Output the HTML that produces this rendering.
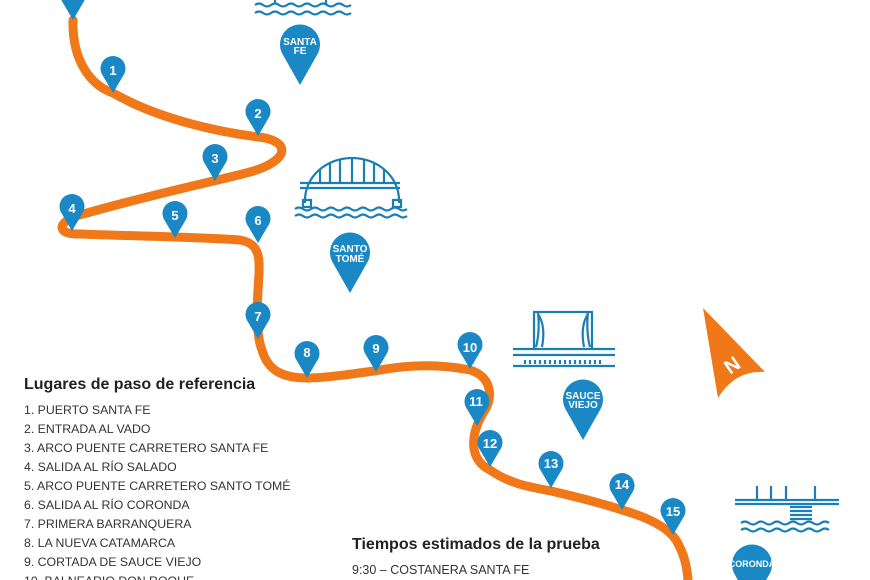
<!DOCTYPE html>
<html><head><meta charset="utf-8"><style>
body{margin:0;background:#fff;width:870px;height:580px;overflow:hidden;font-family:"Liberation Sans",sans-serif}
svg{position:absolute;left:0;top:0}
</style></head><body>
<svg width="870" height="580" viewBox="0 0 870 580">
<defs>
<path id="pin" d="M0,0 L-10,-17 A12.5,12.5 0 1 1 10,-17 Z" fill="#1a88c4"/>
<path id="bpin" d="M0,0 L-17,-30 A20,20 0 1 1 17,-30 Z" fill="#1a88c4"/>
</defs>
<g fill="none" stroke="#1a7fb4" stroke-width="2.2">
<path d="M255,5 q4,-3 8,0 t8,0 t8,0 t8,0 t8,0 t8,0 t8,0 t8,0 t8,0 t8,0 t8,0 t8,0"/>
<path d="M255,13 q4,-3 8,0 t8,0 t8,0 t8,0 t8,0 t8,0 t8,0 t8,0 t8,0 t8,0 t8,0 t8,0"/>
<path d="M275,0 v4 M326,0 v4"/>
<!-- arch bridge -->
<path d="M305,203 L305,200 A47,42 0 0 1 399,200 L399,203"/>
<path d="M300,183 h100 M300,188 h100"/>
<path d="M320,169 v14 M330,163 v20 M340,159 v24 M352,158 v25 M364,159 v24 M374,163 v20 M384,169 v14"/>
<path d="M303,200 h8 v7 h-8z M393,200 h8 v7 h-8z"/>
<path d="M295,209 q4,-3 8,0 t8,0 t8,0 t8,0 t8,0 t8,0 t8,0 t8,0 t8,0 t8,0 t8,0 t8,0 t8,0 t8,0"/>
<path d="M295,216 q4,-3 8,0 t8,0 t8,0 t8,0 t8,0 t8,0 t8,0 t8,0 t8,0 t8,0 t8,0 t8,0 t8,0 t8,0"/>
<!-- stage -->
<path d="M513,349 h102 M513,355 h102 M513,366 h102"/>
<path d="M533,312 h60 M534,312 v37 M592,312 v37 M538,312 q2,20 -2,35 M588,312 q-2,20 2,35 M538,314 q8,12 4,33 M588,314 q-8,12 -4,33"/>
<path d="M525,360 v4 M530,360 v4 M535,360 v4 M540,360 v4 M545,360 v4 M550,360 v4 M555,360 v4 M560,360 v4 M565,360 v4 M570,360 v4 M575,360 v4 M580,360 v4 M585,360 v4 M590,360 v4 M595,360 v4 M600,360 v4"/>
<!-- coronda pier -->
<path d="M735,500 h104 M735,504 h104 M757,486 v14 M771,486 v14 M786,486 v14 M815,486 v14"/>
<path d="M790,507 h22 M790,511 h22 M790,515 h22 M790,519 h22"/>
<path d="M741,523 q4,-3 8,0 t8,0 t8,0 t8,0 t8,0 t8,0 t8,0 t8,0 t8,0 t8,0 t8,0"/>
<path d="M741,530 q4,-3 8,0 t8,0 t8,0 t8,0 t8,0 t8,0 t8,0 t8,0 t8,0 t8,0 t8,0"/>
</g>
<path d="M73,20 C72,60 90,85 113,93 C160,120 220,132 258,137 C290,140 292,160 250,172 C220,180 150,195 87,213 C55,220 55,235 80,234 C130,236 200,237 240,240 C262,244 260,260 258,290 C256,320 258,340 262,350 C268,372 285,378 307,378 C330,378 355,373 375,371 C410,364 440,364 470,370 C490,376 494,395 485,410 C472,430 466,458 490,470 C510,484 530,487 551,491 C590,500 610,506 622,510 C650,518 668,528 676,540 C685,555 687,568 688,580" fill="none" stroke="#f07818" stroke-width="9" stroke-linecap="round"/>
<path d="M703,308 L765,372 Q735,370 718,398 Z" fill="#f07818"/>
<text x="732" y="372" transform="rotate(-35 732 365)" font-size="20" font-weight="bold" fill="#fff" text-anchor="middle">N</text>
<g font-size="13" font-weight="bold" fill="#fff" text-anchor="middle">
<use href="#pin" x="73" y="20"/>
<use href="#pin" x="113" y="93"/><text x="113" y="75">1</text>
<use href="#pin" x="258" y="136"/><text x="258" y="118">2</text>
<use href="#pin" x="215" y="181"/><text x="215" y="163">3</text>
<use href="#pin" x="72" y="231"/><text x="72" y="213">4</text>
<use href="#pin" x="175" y="238"/><text x="175" y="220">5</text>
<use href="#pin" x="258" y="243"/><text x="258" y="225">6</text>
<use href="#pin" x="258" y="339"/><text x="258" y="321">7</text>
<use href="#pin" x="307" y="378"/><text x="307" y="357">8</text>
<use href="#pin" x="376" y="372"/><text x="376" y="353">9</text>
<use href="#pin" x="470" y="369"/><text x="470" y="352">10</text>
<use href="#pin" x="477" y="426"/><text x="476" y="406">11</text>
<use href="#pin" x="490" y="467"/><text x="490" y="448">12</text>
<use href="#pin" x="551" y="488"/><text x="551" y="468">13</text>
<use href="#pin" x="622" y="510"/><text x="622" y="489">14</text>
<use href="#pin" x="673" y="535"/><text x="673" y="516">15</text>
</g>
<g font-size="10" font-weight="bold" fill="#fff" text-anchor="middle">
<use href="#bpin" x="300" y="85"/><text x="300" y="45">SANTA</text><text x="300" y="54">FE</text>
<use href="#bpin" x="350" y="293"/><text x="350" y="252">SANTO</text><text x="350" y="262">TOMÉ</text>
<use href="#bpin" x="583" y="440"/><text x="583" y="399">SAUCE</text><text x="583" y="408">VIEJO</text>
<use href="#bpin" x="752" y="605"/><text x="752" y="567" font-size="9">CORONDA</text>
</g>
<g fill="#222">
<text x="24" y="389" font-size="16" font-weight="bold">Lugares de paso de referencia</text>
<g font-size="12.3" fill="#333">
<text x="24" y="414">1. PUERTO SANTA FE</text>
<text x="24" y="433">2. ENTRADA AL VADO</text>
<text x="24" y="452">3. ARCO PUENTE CARRETERO SANTA FE</text>
<text x="24" y="471">4. SALIDA AL RÍO SALADO</text>
<text x="24" y="490">5. ARCO PUENTE CARRETERO SANTO TOMÉ</text>
<text x="24" y="509">6. SALIDA AL RÍO CORONDA</text>
<text x="24" y="528">7. PRIMERA BARRANQUERA</text>
<text x="24" y="547">8. LA NUEVA CATAMARCA</text>
<text x="24" y="566">9. CORTADA DE SAUCE VIEJO</text>
<text x="24" y="585">10. BALNEARIO DON ROQUE</text>
</g>
<text x="352" y="549" font-size="16" font-weight="bold">Tiempos estimados de la prueba</text>
<text x="352" y="574" font-size="12.5" fill="#333">9:30 – COSTANERA SANTA FE</text>
</g>
</svg>
</body></html>
